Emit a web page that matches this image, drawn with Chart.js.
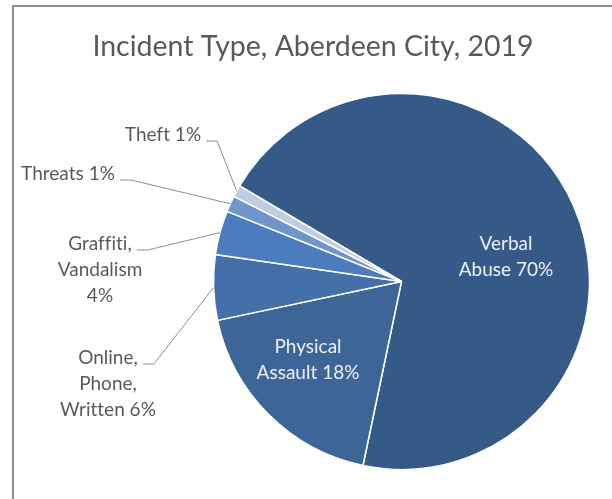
<!DOCTYPE html>
<html>
<head>
<meta charset="utf-8">
<script src="https://cdn.jsdelivr.net/npm/chart.js@4.4.1/dist/chart.umd.min.js"></script>
<style>
  html, body { margin: 0; padding: 0; background: #fff; }
  canvas { display: block; }
</style>
</head>
<body>
<canvas id="chart" width="612" height="499"></canvas>
<script>
const title = "Incident Type, Aberdeen City, 2019";
const categories = ["Verbal Abuse", "Physical Assault", "Online, Phone, Written", "Graffiti, Vandalism", "Threats", "Theft"];
const shares = [69.8, 18.4, 5.6, 3.8, 1.4, 1.0];
const colors = ["#365a87", "#3d6598", "#4470a9", "#4a7cbe", "#7094cb", "#c0cce2"];

// where each label block sits (centre of the text block)
const labelSpots = [
  { x: 506, y: 257, inside: true },
  { x: 308, y: 360, inside: true },
  { x: 108, y: 384 },
  { x: 100, y: 270 },
  { x: 68, y: 174 },
  { x: 163, y: 135 },
];

const LABEL_FONT = "19px Lato";
const LINE = 26;
const WRAP = 105;

function wrap(ctx, text, maxW) {
  const words = text.split(" ");
  const lines = [];
  let cur = "";
  words.forEach(w => {
    const next = cur ? cur + " " + w : w;
    if (cur && ctx.measureText(next).width > maxW) {
      lines.push(cur);
      cur = w;
    } else {
      cur = next;
    }
  });
  if (cur) lines.push(cur);
  return lines;
}

const frameAndLabels = {
  id: "frameAndLabels",
  beforeDraw(chart) {
    const ctx = chart.ctx;
    ctx.save();
    ctx.strokeStyle = "#8c8c8c";
    ctx.lineWidth = 2;
    ctx.beginPath();
    ctx.moveTo(13, chart.height);
    ctx.lineTo(13, 6);
    ctx.lineTo(chart.width, 6);
    ctx.stroke();
    ctx.fillStyle = "#595959";
    ctx.font = "28.5px Lato";
    ctx.textAlign = "center";
    ctx.textBaseline = "alphabetic";
    ctx.fillText(title, 313, 56);
    ctx.restore();
  },
  afterDatasetsDraw(chart) {
    const ctx = chart.ctx;
    const arcs = chart.getDatasetMeta(0).data;
    const total = shares.reduce((a, b) => a + b, 0);
    ctx.save();
    ctx.font = LABEL_FONT;
    ctx.letterSpacing = "0.01px"; // keeps "fi" from joining into a ligature
    ctx.textAlign = "center";
    ctx.textBaseline = "middle";
    arcs.forEach((arc, i) => {
      const pct = Math.round(shares[i] / total * 100);
      const lines = wrap(ctx, categories[i] + " " + pct + "%", WRAP);
      const spot = labelSpots[i];
      const top = spot.y - (lines.length - 1) * LINE / 2;
      ctx.fillStyle = spot.inside ? "#eef1f6" : "#595959";
      lines.forEach((t, k) => ctx.fillText(t, spot.x, top + k * LINE));
      if (!spot.inside) {
        const p = arc.getProps(["x", "y", "startAngle", "endAngle", "outerRadius"], true);
        const mid = (p.startAngle + p.endAngle) / 2;
        const ex = p.x + Math.cos(mid) * p.outerRadius;
        const ey = p.y + Math.sin(mid) * p.outerRadius;
        const sx = spot.x + ctx.measureText(lines[0]).width / 2 + 5;
        const sy = top + 6;
        ctx.strokeStyle = "#8c8c8c";
        ctx.lineWidth = 1;
        ctx.beginPath();
        ctx.moveTo(sx, sy);
        ctx.lineTo(sx + 11, sy);
        ctx.lineTo(ex, ey);
        ctx.stroke();
      }
    });
    ctx.restore();
  }
};

new Chart(document.getElementById("chart"), {
  type: "pie",
  data: {
    labels: categories,
    datasets: [{
      data: shares,
      backgroundColor: colors,
      borderColor: "#ffffff",
      borderWidth: 1.5,
      hoverOffset: 0,
      offset: 0,
    }],
  },
  options: {
    responsive: false,
    animation: false,
    rotation: -59.45,
    layout: { padding: { left: 212.75, right: 21.75, top: 92.75, bottom: 28.75 } },
    plugins: {
      legend: { display: false },
      title: { display: false },
      tooltip: { enabled: false },
    },
  },
  plugins: [frameAndLabels],
});
</script>
</body>
</html>
